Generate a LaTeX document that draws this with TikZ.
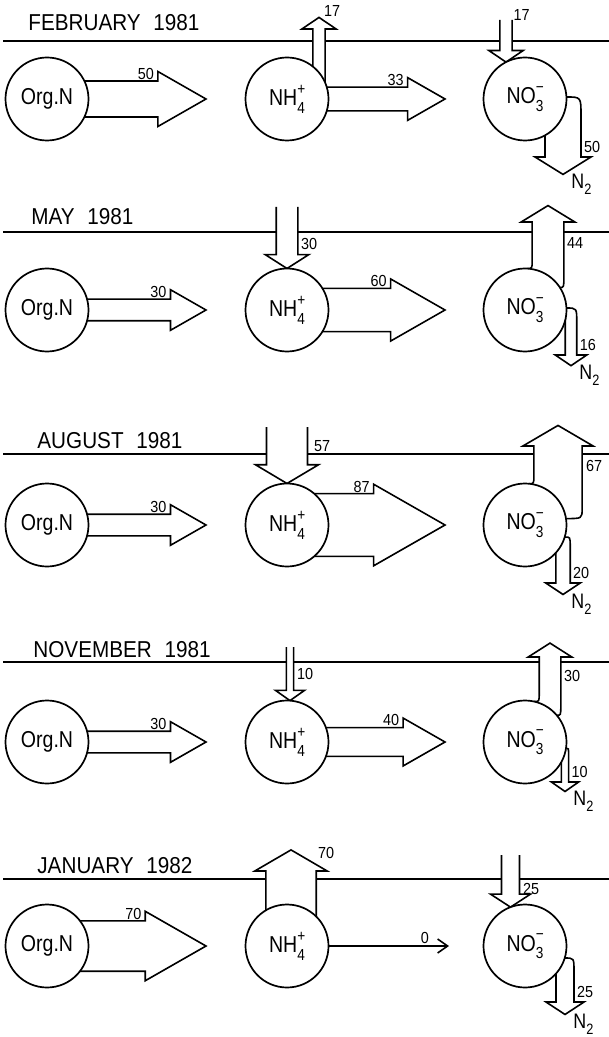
\documentclass[tikz,border=0pt]{standalone}
\usepackage{fontspec}
\setmainfont{Liberation Sans}[FakeStretch=0.9]
\newfontfamily\circfont{Liberation Sans}[FakeStretch=0.85]
\usetikzlibrary{calc,arrows.meta}
\pgfdeclarelayer{lines}
\pgfdeclarelayer{arrows}
\pgfsetlayers{lines,arrows,main}

\newcommand\SupSub[2]{\makebox[0pt][l]{\raisebox{0.95ex}{\fontsize{8}{8}\selectfont #1}}\raisebox{-0.6ex}{\fontsize{8}{8}\selectfont #2}}
\newcommand\NTwo{N\raisebox{-0.55ex}{\fontsize{7.5}{8}\selectfont 2}}

\tikzset{
  circ/.style={circle, draw, line width=0.85pt, fill=white, minimum size=41.5pt, inner sep=0pt, font=\circfont\fontsize{11.5}{12}\selectfont},
  flow/.style={line width=0.8pt, fill=white, line join=miter, miter limit=20},
  num/.style={font=\fontsize{8}{8}\selectfont, inner sep=0.3pt},
  ttl/.style={font=\fontsize{11.5}{12}\selectfont, anchor=base west, inner sep=0pt},
  sepline/.style={line width=1pt},
  ntwo/.style={font=\circfont\fontsize{10.5}{11}\selectfont, inner sep=0pt, anchor=north west},
}

% horizontal flow: node, tip dx, value, label name
\newcommand\HFlow[4]{%
  \pgfmathsetmacro\flwh{0.36*#3}%
  \pgfmathsetmacro\flwH{\flwh+9.5}%
  \pgfmathsetmacro\flwb{#2-1.75*\flwH}%
  \pgfmathsetmacro\flwl{\flwb-3}%
  \pgfmathsetmacro\flwy{-\flwh-0.5}%
  \begin{pgfonlayer}{arrows}
  \draw[flow] ($(#1.center)+(0,-\flwh)$) -- ($(#1.center)+(\flwb,-\flwh)$) -- ($(#1.center)+(\flwb,-\flwH)$) -- ($(#1.center)+(#2,0)$) -- ($(#1.center)+(\flwb,\flwH)$) -- ($(#1.center)+(\flwb,\flwh)$) -- ($(#1.center)+(0,\flwh)$);
  \end{pgfonlayer}
  \node[num, anchor=south east] (#4) at ($(#1.center)+(\flwl,\flwy)$) {#3};
}

% downward flow into a circle: node, dx, top dy, value, label name, label dx, label dy, anchor
\newcommand\DFlow[8]{%
  \pgfmathsetmacro\flwh{0.36*#4}%
  \pgfmathsetmacro\flwH{\flwh+11}%
  \pgfmathsetmacro\flwt{-sqrt(41.5*41.5-(#2)*(#2))}%
  \pgfmathsetmacro\flwb{\flwt-0.5*\flwH-3}%
  \pgfmathsetmacro\flwxl{#2-\flwh}%
  \pgfmathsetmacro\flwxr{#2+\flwh}%
  \pgfmathsetmacro\flwXl{#2-\flwH}%
  \pgfmathsetmacro\flwXr{#2+\flwH}%
  \begin{pgfonlayer}{arrows}
  \draw[flow] ($(#1.center)+(\flwxl,#3)$) -- ($(#1.center)+(\flwxl,\flwb)$) -- ($(#1.center)+(\flwXl,\flwb)$) -- ($(#1.center)+(#2,\flwt)$) -- ($(#1.center)+(\flwXr,\flwb)$) -- ($(#1.center)+(\flwxr,\flwb)$) -- ($(#1.center)+(\flwxr,#3)$);
  \end{pgfonlayer}
  \node[num, anchor=#8] (#5) at ($(#1.center)+(#6,#7)$) {#4};
}

% straight upward flow out of a circle: node, dx, head base dy, value, label name, label dx, label dy, anchor
\newcommand\UFlowS[8]{%
  \pgfmathsetmacro\flwh{0.36*#4}%
  \pgfmathsetmacro\flwH{\flwh+11}%
  \pgfmathsetmacro\flwt{#3-0.5*\flwH-3}%
  \pgfmathsetmacro\flwxl{#2-\flwh}%
  \pgfmathsetmacro\flwxr{#2+\flwh}%
  \pgfmathsetmacro\flwXl{#2-\flwH}%
  \pgfmathsetmacro\flwXr{#2+\flwH}%
  \begin{pgfonlayer}{arrows}
  \draw[flow] ($(#1.center)+(\flwxl,0)$) -- ($(#1.center)+(\flwxl,#3)$) -- ($(#1.center)+(\flwXl,#3)$) -- ($(#1.center)+(#2,\flwt)$) -- ($(#1.center)+(\flwXr,#3)$) -- ($(#1.center)+(\flwxr,#3)$) -- ($(#1.center)+(\flwxr,0)$);
  \end{pgfonlayer}
  \node[num, anchor=#8] (#5) at ($(#1.center)+(#6,#7)$) {#4};
}

% upward flow with curved feet: node, dx, head base dy, value, label name, label dx, label dy, anchor
\newcommand\UFlowC[8]{%
  \pgfmathsetmacro\flwh{0.36*#4}%
  \pgfmathsetmacro\flwH{\flwh+11}%
  \pgfmathsetmacro\flwt{#3-0.5*\flwH-3}%
  \pgfmathsetmacro\flwxl{#2-\flwh}%
  \pgfmathsetmacro\flwxr{#2+\flwh}%
  \pgfmathsetmacro\flwXl{#2-\flwH}%
  \pgfmathsetmacro\flwXr{#2+\flwH}%
  \pgfmathsetmacro\flwpl{\flwxl-5}%
  \pgfmathsetmacro\flwql{-sqrt(41.5*41.5-\flwpl*\flwpl)}%
  \pgfmathsetmacro\flwel{\flwql-8}%
  \pgfmathsetmacro\flwpr{min(\flwxr-4,41)}%
  \pgfmathsetmacro\flwqr{-sqrt(41.5*41.5-\flwpr*\flwpr)}%
  \pgfmathsetmacro\flwer{\flwqr-10}%
  \begin{pgfonlayer}{arrows}
  \draw[flow] ($(#1.center)+(\flwpl,\flwql)$) .. controls ($(#1.center)+(\flwxl,\flwql)$) .. ($(#1.center)+(\flwxl,\flwel)$) -- ($(#1.center)+(\flwxl,#3)$) -- ($(#1.center)+(\flwXl,#3)$) -- ($(#1.center)+(#2,\flwt)$) -- ($(#1.center)+(\flwXr,#3)$) -- ($(#1.center)+(\flwxr,#3)$) -- ($(#1.center)+(\flwxr,\flwer)$) .. controls ($(#1.center)+(\flwxr,\flwqr)$) .. ($(#1.center)+(\flwpr,\flwqr)$);
  \end{pgfonlayer}
  \node[num, anchor=#8] (#5) at ($(#1.center)+(#6,#7)$) {#4};
}

% flow to N2: node, dx, head base dy, value, start y on circle, label name, N2 name
\newcommand\NFlow[7]{%
  \pgfmathsetmacro\flwh{0.36*#4}%
  \pgfmathsetmacro\flwH{\flwh+10}%
  \pgfmathsetmacro\flwt{#3+0.55*\flwH+2}%
  \pgfmathsetmacro\flwxl{#2-\flwh}%
  \pgfmathsetmacro\flwxr{#2+\flwh}%
  \pgfmathsetmacro\flwXl{#2-\flwH}%
  \pgfmathsetmacro\flwXr{#2+\flwH}%
  \pgfmathsetmacro\flwpr{sqrt(41.5*41.5-(#5)*(#5))}%
  \pgfmathsetmacro\flwer{#5+max(\flwxr-\flwpr,4)+4}%
  \pgfmathsetmacro\flwlx{\flwxr+2}%
  \pgfmathsetmacro\flwly{#3-10}%
  \pgfmathsetmacro\flwnx{#2+8}%
  \pgfmathsetmacro\flwny{\flwt-1}%
  \begin{pgfonlayer}{arrows}
  \draw[flow] ($(#1.center)+(\flwxl,0)$) -- ($(#1.center)+(\flwxl,#3)$) -- ($(#1.center)+(\flwXl,#3)$) -- ($(#1.center)+(#2,\flwt)$) -- ($(#1.center)+(\flwXr,#3)$) -- ($(#1.center)+(\flwxr,#3)$) -- ($(#1.center)+(\flwxr,\flwer)$) .. controls ($(#1.center)+(\flwxr,#5)$) .. ($(#1.center)+(\flwpr,#5)$);
  \end{pgfonlayer}
  \node[num, anchor=west] (#6) at ($(#1.center)+(\flwlx,\flwly)$) {#4};
  \node[ntwo] (#7) at ($(#1.center)+(\flwnx,\flwny)$) {\NTwo};
}

\begin{document}
\begin{tikzpicture}[x=0.5pt,y=-0.5pt]
\useasboundingbox (0,0) rectangle (609,1037);
\begin{pgfonlayer}{lines}
  \fill[white] (0,0) rectangle (609,1037);
  \draw[sepline] (3,41) -- (609,41);
  \draw[sepline] (3,232) -- (609,232);
  \draw[sepline] (3,454) -- (609,454);
  \draw[sepline] (3,662) -- (609,662);
  \draw[sepline] (3,879) -- (609,879);
\end{pgfonlayer}

% ---------- FEBRUARY 1981
\node[ttl] (t1) at (28,31) {FEBRUARY\hspace{0.55em}1981};
\node[circ] (o1) at (47,99) {Org.N};
\node[circ] (a1) at (287,99) {NH\SupSub{+}{4}};
\node[circ] (n1) at (525,99) {NO\SupSub{\textminus}{3}};
\HFlow{o1}{159}{50}{l1a}
\UFlowS{a1}{32}{-70}{17}{l1b}{36}{-81}{south west}
\HFlow{a1}{158}{33}{l1c}
\DFlow{n1}{-19}{-79}{17}{l1d}{-12.5}{-77.5}{south west}
\NFlow{n1}{38}{58}{50}{-2}{l1e}{m1}

% ---------- MAY 1981
\node[ttl] (t2) at (31,225) {MAY\hspace{0.55em}1981};
\node[circ] (o2) at (47,310) {Org.N};
\node[circ] (a2) at (287,310) {NH\SupSub{+}{4}};
\node[circ] (n2) at (525,310) {NO\SupSub{\textminus}{3}};
\HFlow{o2}{159}{30}{l2a}
\DFlow{a2}{0}{-103}{30}{l2b}{13}{-73}{north west}
\HFlow{a2}{158}{60}{l2c}
\UFlowC{n2}{23}{-88}{44}{l2d}{41}{-74}{north west}
\NFlow{n2}{46}{45}{16}{-2}{l2e}{m2}

% ---------- AUGUST 1981
\node[ttl] (t3) at (37,448) {AUGUST\hspace{0.55em}1981};
\node[circ] (o3) at (47,525) {Org.N};
\node[circ] (a3) at (287,525) {NH\SupSub{+}{4}};
\node[circ] (n3) at (525,525) {NO\SupSub{\textminus}{3}};
\HFlow{o3}{159}{30}{l3a}
\DFlow{a3}{0}{-98}{57}{l3b}{26}{-72}{south west}
\HFlow{a3}{158}{87}{l3c}
\UFlowC{n3}{33}{-79}{67}{l3d}{60}{-66}{north west}
\NFlow{n3}{38}{58}{20}{12}{l3e}{m3}

% ---------- NOVEMBER 1981
\node[ttl] (t4) at (33,657) {NOVEMBER\hspace{0.55em}1981};
\node[circ] (o4) at (47,742) {Org.N};
\node[circ] (a4) at (287,742) {NH\SupSub{+}{4}};
\node[circ] (n4) at (525,742) {NO\SupSub{\textminus}{3}};
\HFlow{o4}{159}{30}{l4a}
\DFlow{a4}{3}{-95}{10}{l4b}{9}{-75}{north west}
\HFlow{a4}{158}{40}{l4c}
\UFlowC{n4}{25}{-85}{30}{l4d}{38}{-73}{north west}
\NFlow{n4}{40}{40}{10}{6}{l4e}{m4}

% ---------- JANUARY 1982
\node[ttl] (t5) at (37,873) {JANUARY\hspace{0.55em}1982};
\node[circ] (o5) at (47,946) {Org.N};
\node[circ] (a5) at (287,946) {NH\SupSub{+}{4}};
\node[circ] (n5) at (525,946) {NO\SupSub{\textminus}{3}};
\HFlow{o5}{159}{70}{l5a}
\UFlowS{a5}{4}{-75}{70}{l5b}{30}{-86}{south west}
\coordinate (z5) at ($(a5.center)+(162,0)$);
\draw[line width=0.8pt, -{Straight Barb[length=5pt,width=7pt,line width=0.8pt]}] (a5.east) -- (z5);
\node[num, anchor=south east] (l5c) at ($(a5.center)+(143,-1)$) {0};
\DFlow{n5}{-14.5}{-91}{25}{l5d}{-3}{-64}{north west}
\NFlow{n5}{40}{56}{25}{12}{l5e}{m5}
\end{tikzpicture}
\end{document}
